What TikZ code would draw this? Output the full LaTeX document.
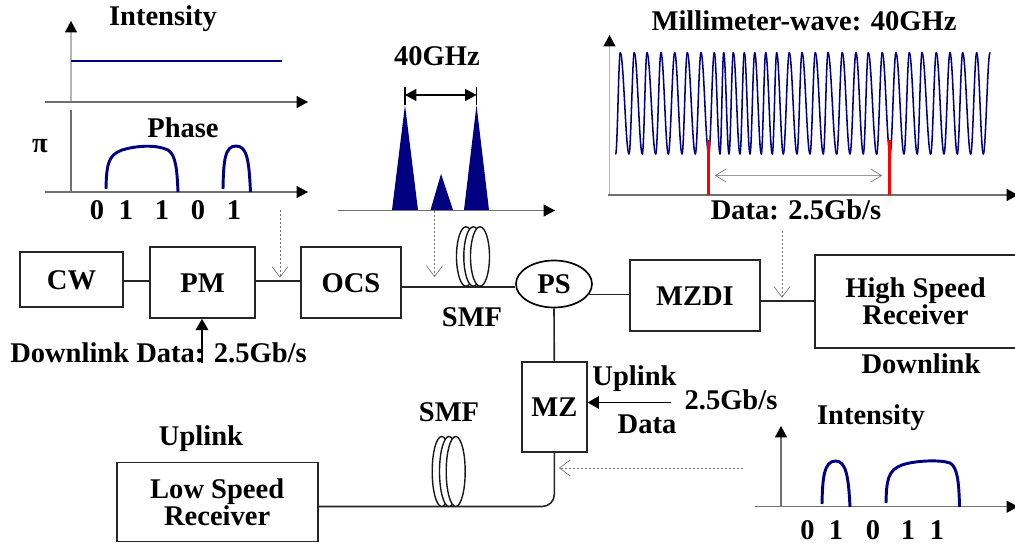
\documentclass[tikz,border=0pt]{standalone}
\usepackage{fontspec}
\setmainfont{Liberation Serif}
\usetikzlibrary{arrows.meta,shapes.geometric}
\definecolor{wavenavy}{HTML}{000080}
\definecolor{axislight}{HTML}{B4B4B4}
\definecolor{axisgray}{HTML}{707070}
\tikzset{
  lbl/.style={inner sep=0pt,anchor=base,font=\fontsize{21.4}{20.5}\selectfont\bfseries,text=black},
  blockbox/.style={draw=black!85,line width=1.25pt,inner sep=0pt,font=\fontsize{21.4}{20.5}\selectfont\bfseries,text=black,align=center},
  capbox/.style={blockbox,text height=14.7pt,text depth=0pt},
  wire/.style={draw=black!85,line width=1.2pt},
  axis/.style={draw=axisgray,line width=.8pt,-{Triangle[length=8.5pt,width=9pt,color=black]}},
  axisplain/.style={draw=axisgray,line width=.8pt},
  pulse/.style={draw=wavenavy,line width=2.2pt},
  wavepart/.style={draw=wavenavy,line width=1.15pt,line cap=round},
  hint/.style={draw=black!55,line width=.45pt,dash pattern=on 1.5pt off 1.5pt,-{Straight Barb[length=8pt,width=12pt,color=black!60,line width=.45pt]}},
  spike/.style={fill=wavenavy,draw=none},
  solidtip/.style={draw=black,line width=1.1pt,-{Triangle[length=8.5pt,width=9.5pt]}},
  turn/.style={draw=black!90,line width=1.05pt,fill=white},
  redmark/.style={draw=red,line width=2.4pt}
}
\begin{document}
\begin{tikzpicture}[x=.75pt,y=-.75pt]
\useasboundingbox (0,0) rectangle (1015,545);
\clip (0,0) rectangle (1015,545);

% top-left panel
\draw[axis,draw=axislight] (71,102) -- (71,21);
\draw[axis] (45,102) -- (308,102);
\draw[pulse] (71,61) -- (282,61);
\node[lbl] (t1) at (163,25.5) {Intensity};
\draw[axisplain] (71,110) -- (71,192);
\draw[axis] (45,192) -- (308,192);
\draw[pulse] (106,189) .. controls (106.5,165) and (108,155) .. (122,150) .. controls (135,146) and (155,144) .. (168,150) .. controls (176,155) and (177,170) .. (178,192);
\draw[pulse] (223,189) .. controls (223.5,160) and (225,146) .. (236,146) .. controls (247,146) and (249,160) .. (250.5,192);
\node[lbl] (t2) at (183,137.5) {Phase};
\node[lbl] (t3) at (40,153) {π};
\node[lbl] (b1) at (97,220) {0};
\node[lbl] (b2) at (126,220) {1};
\node[lbl] (b3) at (162,220) {1};
\node[lbl] (b4) at (198,220) {0};
\node[lbl] (b5) at (234,220) {1};

% spectrum
\draw[axis] (338,210.5) -- (555,210.5);
\fill[spike] (392,210) -- (405,105) -- (418,210) -- cycle;
\fill[spike] (430.5,210) -- (441,174) -- (453,210) -- cycle;
\fill[spike] (464,210) -- (476.5,105) -- (489,210) -- cycle;
\coordinate (sl) at (405,95);
\coordinate (sr) at (476.5,95);
\draw[draw=black,line width=.9pt] (405,87) -- (405,105);
\draw[draw=black,line width=.9pt] (476.5,87) -- (476.5,105);
\draw[draw=black,line width=1pt,{Triangle[length=8.5pt,width=9pt]}-{Triangle[length=8.5pt,width=9pt]}] (sl) -- (sr);
\node[lbl] (t4) at (437,66) {40GHz};

% mm-wave panel
\draw[axis,draw=axislight] (609.5,195) -- (609.5,35);
\draw[axis] (608,195) -- (1018,195);
\foreach \t/\p [remember=\p as \q (initially 0)] in {615.7/620.3,629/634.3,642.3/647,655.7/661,668.3/674.7,682/687.3,695.3/701,708.7/714.3,720/723.7,729/733.3,740/744.3,750/754.7,761.3/765.7,772.3/776.7,783.3/789.3,797/802,810/815.3,823.3/828,836.7/842.3,850/856,863.3/868.3,876.7/882.3,890/896,904/909.3,917.3/922,930.7/936.3,944/950,957.3/962.7,970.7/976.7,983.3/990}{
  \pgfmathsetmacro{\aa}{\t+0.3642*(\p-\t)}
  \pgfmathsetmacro{\bb}{\t+0.6358*(\p-\t)}
  \draw[wavepart] (\t,154) .. controls (\aa,154) and (\bb,52.7) .. (\p,52.7);
  \ifdim\q pt>1pt
    \pgfmathsetmacro{\cc}{\q+0.3642*(\t-\q)}
    \pgfmathsetmacro{\dd}{\q+0.6358*(\t-\q)}
    \draw[wavepart] (\q,52.7) .. controls (\cc,52.7) and (\dd,154) .. (\t,154);
  \fi
}
\draw[redmark] (708.5,140) -- (708.5,195);
\draw[redmark] (889.5,140) -- (889.5,195);
\coordinate (dl) at (715,175.5);
\coordinate (dr) at (882,175.5);
\draw[draw=black!40,line width=.4pt,{Straight Barb[length=8pt,width=10pt,color=black!60,line width=.45pt]}-{Straight Barb[length=8pt,width=10pt,color=black!60,line width=.45pt]}] (dl) -- (dr);
\node[lbl] (t5) at (804,30.7) {Millimeter-wave: 40GHz};
\node[lbl] (t6) at (796,220) {Data: 2.5Gb/s};

% blocks
\node[capbox,minimum width={103*.75pt},minimum height={55*.75pt}] (cw) at (71.5,279.5) {CW};
\node[capbox,minimum width={105*.75pt},minimum height={71*.75pt}] (pm) at (202.5,282.5) {PM};
\node[capbox,minimum width={100*.75pt},minimum height={71*.75pt}] (ocs) at (351,282.5) {OCS};
\node[capbox,draw=black,ellipse,minimum width={76*.75pt},minimum height={47*.75pt}] (ps) at (554,284) {PS};
\node[capbox,minimum width={130*.75pt},minimum height={71*.75pt}] (mzdi) at (695,295.5) {MZDI};
\node[blockbox,minimum width={201*.75pt},minimum height={93*.75pt}] (hs) at (915.5,301.5) {High Speed\\Receiver};
\node[capbox,minimum width={65*.75pt},minimum height={90*.75pt}] (mz) at (554.3,407) {MZ};
\node[blockbox,minimum width={201*.75pt},minimum height={79*.75pt}] (ls) at (217.2,502) {Low Speed\\Receiver};

% connectors
\draw[wire] (cw.east |- 0,281) -- (pm.west |- 0,281);
\draw[wire] (pm.east |- 0,281) -- (ocs.west |- 0,281);
\coordinate (smfend) at (ocs.east |- 0,287);
\draw[wire] (smfend) -- (ps.west |- 0,287);
\foreach \cx in {466,473.3,480}{\draw[turn] (\cx,256.5) ellipse [x radius=9.5,y radius=29.7];}
\draw[wire] (ps.-17) -- (ps.-17 -| mzdi.west);
\draw[wire] (mzdi.east |- 0,301) -- (hs.west |- 0,301);
\draw[wire] (ps.south) -- (mz.north);
\draw[wire,rounded corners=9pt] (mz.south) |- (ls.east |- 0,506.5);
\foreach \cx in {441.7,449,455.7}{\draw[turn] (\cx,471.5) ellipse [x radius=9.5,y radius=35];}

\coordinate (dd1) at (202,363);
\draw[solidtip] (dd1) -- (pm.south -| dd1);
\coordinate (ud1) at (671,402.5);
\draw[solidtip] (ud1) -- (mz.east |- ud1);

% dashed hints
\coordinate (h1a) at (280,210); \coordinate (h1b) at (280,277.7);
\draw[hint] (h1a) -- (h1b);
\coordinate (h2a) at (434.5,211); \coordinate (h2b) at (434.5,277);
\draw[hint] (h2a) -- (h2b);
\coordinate (h3a) at (782,231); \coordinate (h3b) at (782,297.7);
\draw[hint] (h3a) -- (h3b);
\coordinate (h4a) at (743,468); \coordinate (h4b) at (559,468);
\draw[hint] (h4a) -- (h4b);

% labels
\node[lbl] (t7) at (158.5,362.7) {Downlink Data: 2.5Gb/s};
\node[lbl] (t8) at (472,326.7) {SMF};
\node[lbl] (t9) at (449,421.7) {SMF};
\node[lbl] (t10) at (921,373.3) {Downlink};
\node[lbl] (t11) at (634.5,386) {Uplink};
\node[lbl] (t12) at (647,433.5) {Data};
\node[lbl] (t13) at (731,410) {2.5Gb/s};
\node[lbl] (t14) at (201,445.5) {Uplink};

% bottom-right panel
\draw[axis] (781,507) -- (781,426);
\draw[axis] (755,506.7) -- (1018,506.7);
\draw[pulse] (822,504) .. controls (822.5,478) and (824,461) .. (835.5,461) .. controls (846,461) and (848.5,476) .. (850,507);
\draw[pulse] (886,503) .. controls (886.5,480) and (888,470) .. (902,465) .. controls (915,460.5) and (940,459.5) .. (950,463) .. controls (957,467) and (959,480) .. (959.5,507);
\node[lbl] (t15) at (871,424.5) {Intensity};
\node[lbl] (c1) at (807.5,539.3) {0};
\node[lbl] (c2) at (836,539.3) {1};
\node[lbl] (c3) at (873,539.3) {0};
\node[lbl] (c4) at (908,539.3) {1};
\node[lbl] (c5) at (937,539.3) {1};
\end{tikzpicture}
\end{document}
